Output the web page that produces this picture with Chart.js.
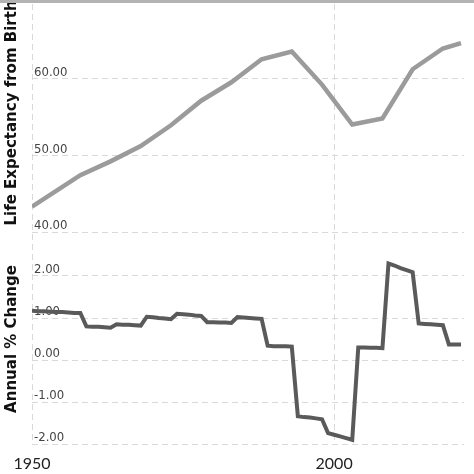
<!DOCTYPE html>
<html>
<head>
<meta charset="utf-8">
<title>Life expectancy from birth</title>
<script src="https://cdn.jsdelivr.net/npm/chart.js@4.4.1/dist/chart.umd.min.js"></script>
<style>
    html, body { margin: 0; padding: 0; background: #fff; }
    body { width: 474px; height: 474px; position: relative; overflow: hidden; }
    .panel { position: absolute; left: 0; width: 474px; }
    #top-panel { top: -6px; height: 243px; }
    #bottom-panel { top: 232px; height: 242px; }
    .edge { position: absolute; left: 0; top: 0; width: 474px; height: 3px; background: #b3b3b3; }
</style>
</head>
<body>
<div class="panel" id="top-panel"><canvas id="life-chart"></canvas></div>
<div class="panel" id="bottom-panel"><canvas id="change-chart"></canvas></div>
<div class="edge"></div>
<script>
// Life expectancy, read at the corners of the line
const lifeYears = [1950, 1958, 1963, 1968, 1973, 1978, 1983, 1988, 1993, 1998, 2003, 2008, 2013, 2018, 2021];
const lifeValues = [43.3, 47.4, 49.2, 51.2, 53.9, 57.1, 59.5, 62.5, 63.5, 59.2, 54.0, 54.8, 61.2, 63.9, 64.6];

// Annual % change, one value per year
const changeYears = [
    1950, 1951, 1952, 1953, 1954, 1955, 1956, 1957, 1958, 1959,
    1960, 1961, 1962, 1963, 1964, 1965, 1966, 1967, 1968, 1969,
    1970, 1971, 1972, 1973, 1974, 1975, 1976, 1977, 1978, 1979,
    1980, 1981, 1982, 1983, 1984, 1985, 1986, 1987, 1988, 1989,
    1990, 1991, 1992, 1993, 1994, 1995, 1996, 1997, 1998, 1999,
    2000, 2001, 2002, 2003, 2004, 2005, 2006, 2007, 2008, 2009,
    2010, 2011, 2012, 2013, 2014, 2015, 2016, 2017, 2018, 2019,
    2020, 2021
];
const changeValues = [
    1.17, 1.16, 1.16, 1.15, 1.14, 1.14, 1.13, 1.12, 1.12, 0.80,
    0.79, 0.79, 0.78, 0.77, 0.85, 0.84, 0.84, 0.83, 0.82, 1.03,
    1.02, 1.00, 0.99, 0.97, 1.10, 1.09, 1.08, 1.06, 1.05, 0.90,
    0.90, 0.89, 0.89, 0.88, 1.02, 1.01, 1.00, 0.99, 0.98, 0.34,
    0.33, 0.33, 0.33, 0.32, -1.34, -1.36, -1.37, -1.39, -1.41, -1.74,
    -1.78, -1.82, -1.86, -1.90, 0.30, 0.30, 0.29, 0.29, 0.28, 2.30,
    2.25, 2.19, 2.14, 2.09, 0.87, 0.86, 0.85, 0.84, 0.83, 0.37,
    0.37, 0.37
];

// Tick labels
const yearTicks = [1950, 2000];
const lifeTicks = [40, 50, 60];
const changeTicks = [-2, -1, 0, 1, 2];

const tickFont = { family: "'DejaVu Sans Condensed', 'DejaVu Sans', sans-serif", size: 13 };
const titleFont = { family: "'DejaVu Sans', sans-serif", size: 15, weight: 'bold' };
const gridStyle = { color: '#d9d9d9', lineWidth: 1, drawTicks: false };
const borderStyle = { display: false, dash: [6, 4] };

const useTicks = (values) => (scale) => {
    scale.ticks = values.map(v => ({ value: v }));
};

// labels sit inside the plot, so they must not push the plot edges in
const noEdgePadding = (scale) => {
    scale.paddingTop = 0;
    scale.paddingBottom = 0;
    scale.paddingLeft = 0;
    scale.paddingRight = 0;
};

const yAxis = (min, max, ticks, title) => ({
    type: 'linear',
    min: min,
    max: max,
    afterBuildTicks: useTicks(ticks),
    afterFit: (scale) => {
        scale.width = 32;
        noEdgePadding(scale);
    },
    grid: gridStyle,
    border: borderStyle,
    ticks: {
        mirror: true,
        padding: 2,
        labelOffset: -6,
        color: '#444',
        font: tickFont,
        callback: (v) => Number(v).toFixed(2)
    },
    title: {
        display: true,
        text: title,
        color: '#111',
        font: titleFont,
        padding: { top: 3, bottom: 0 }
    }
});

const commonOptions = {
    responsive: true,
    maintainAspectRatio: false,
    animation: false,
    plugins: { legend: { display: false }, tooltip: { enabled: false } }
};

const toPoints = (xs, ys) => xs.map((x, i) => ({ x: x, y: ys[i] }));

new Chart(document.getElementById('life-chart'), {
    type: 'line',
    data: {
        datasets: [{
            data: toPoints(lifeYears, lifeValues),
            borderColor: '#9b9b9b',
            borderWidth: 4.5,
            pointRadius: 0,
            tension: 0
        }]
    },
    options: {
        ...commonOptions,
        layout: { padding: { top: 0, right: 10, bottom: 5, left: 0 } },
        scales: {
            x: {
                type: 'linear',
                min: 1950,
                max: 2021.5,
                afterBuildTicks: useTicks(yearTicks),
                afterFit: (scale) => {
                    scale.height = 0;
                    noEdgePadding(scale);
                },
                grid: gridStyle,
                border: borderStyle,
                ticks: { display: false }
            },
            y: yAxis(40, 71, lifeTicks, 'Life Expectancy from Birth')
        }
    }
});

new Chart(document.getElementById('change-chart'), {
    type: 'line',
    data: {
        datasets: [{
            data: toPoints(changeYears, changeValues),
            borderColor: '#5a5a5a',
            borderWidth: 4,
            pointRadius: 0,
            tension: 0
        }]
    },
    options: {
        ...commonOptions,
        layout: { padding: { top: 2, right: 10, bottom: 0, left: 0 } },
        scales: {
            x: {
                type: 'linear',
                min: 1950,
                max: 2021.5,
                afterBuildTicks: useTicks(yearTicks),
                afterFit: (scale) => {
                    scale.height = 30;
                    noEdgePadding(scale);
                },
                grid: gridStyle,
                border: borderStyle,
                ticks: {
                    padding: 10,
                    color: '#222',
                    font: { family: 'Lato, sans-serif', size: 16 },
                    maxRotation: 0,
                    callback: (v) => String(v)
                }
            },
            y: yAxis(-2, 3, changeTicks, 'Annual % Change')
        }
    }
});
</script>
</body>
</html>
